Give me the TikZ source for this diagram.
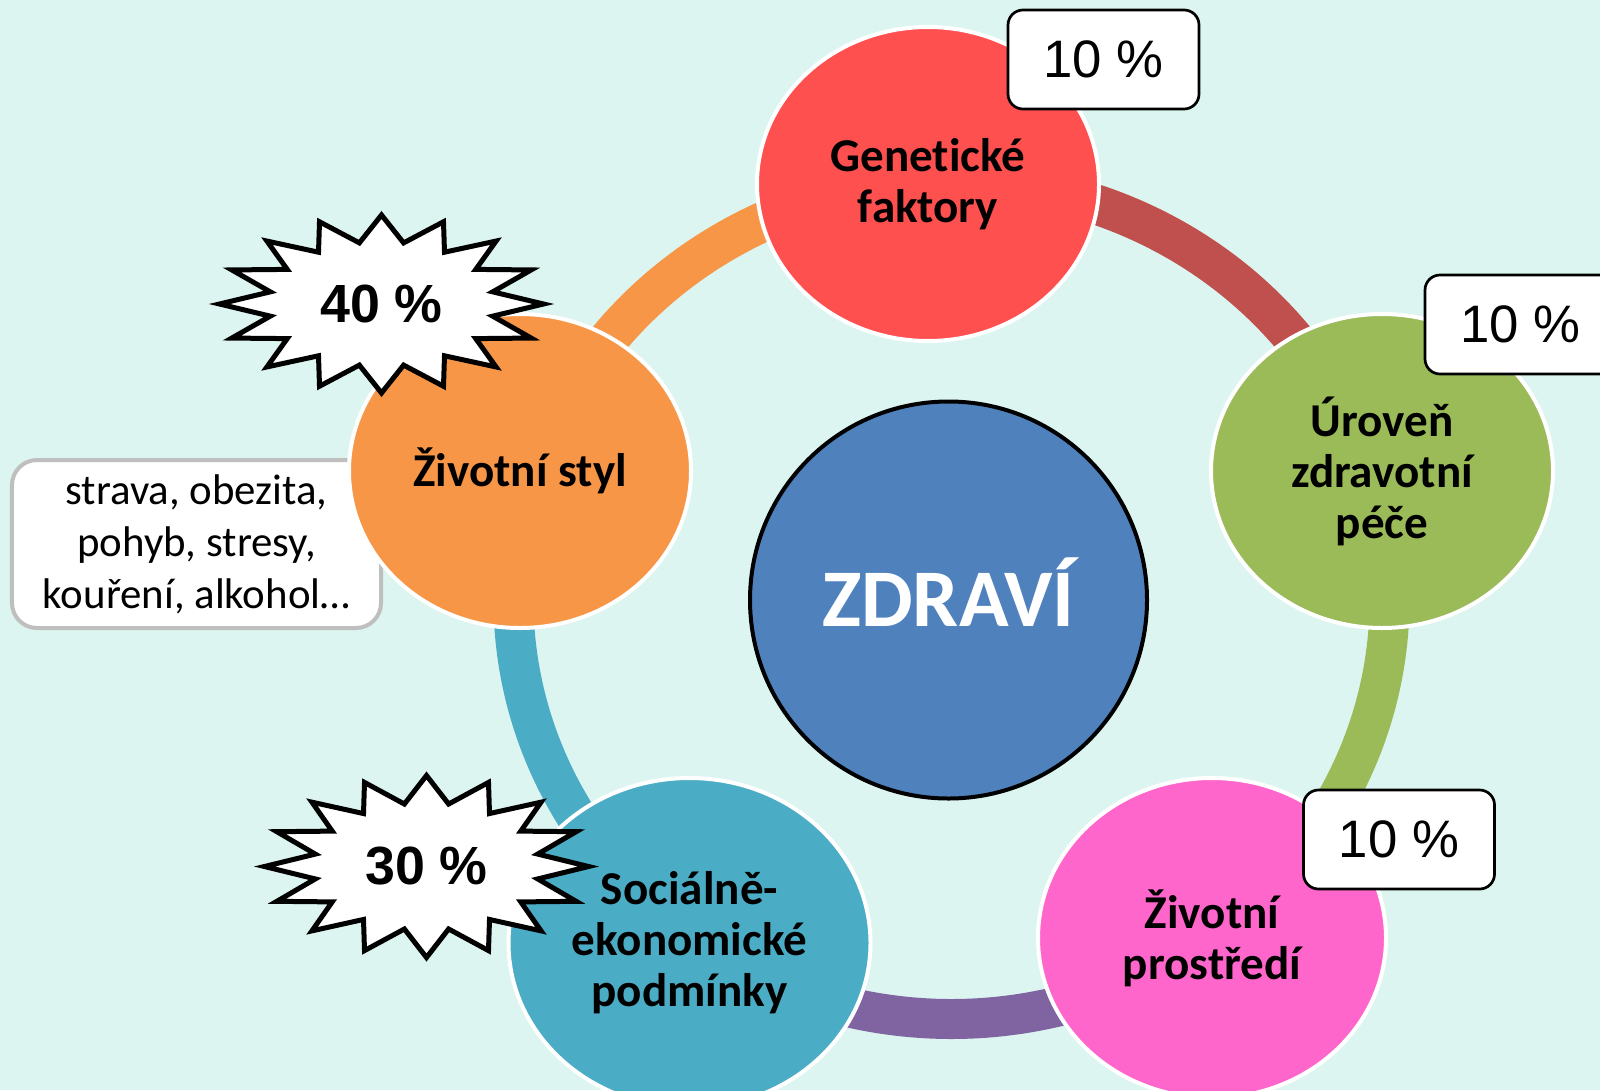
\documentclass[tikz,border=0pt]{standalone}
\usepackage{fontspec}
\setmainfont{Carlito}[Ligatures=NoCommon]
\newfontfamily\arialfont{Liberation Sans}
\usetikzlibrary{shapes.geometric}

\definecolor{bgmint}{RGB}{220,245,240}
\definecolor{genred}{RGB}{255,80,80}
\definecolor{arcred}{RGB}{192,80,77}
\definecolor{caregreen}{RGB}{155,187,89}
\definecolor{envpink}{RGB}{255,102,204}
\definecolor{arcpurple}{RGB}{128,100,162}
\definecolor{socteal}{RGB}{75,172,198}
\definecolor{styleorange}{RGB}{247,150,70}
\definecolor{healthblue}{RGB}{79,129,189}
\definecolor{notegray}{RGB}{191,191,191}

\begin{document}
\begin{tikzpicture}[
    factor/.style={ellipse, draw=white, line width=0.04cm, minimum width=3.42cm,
      minimum height=3.14cm, inner sep=0pt, align=center,
      font={\fontsize{13.4pt}{14.5pt}\selectfont\bfseries}},
    ringband/.style={line width=0.40cm},
    pctbox/.style={draw=black, fill=white, line width=0.027cm, rounded corners=0.15cm,
      minimum width=1.91cm, minimum height=0.99cm, inner sep=0pt,
      font={\arialfont\fontsize{15pt}{18pt}\selectfont}},
    burst/.style={draw=black, fill=white, line width=0.05cm, line join=miter},
    bursttext/.style={inner sep=0pt, font={\arialfont\bfseries\fontsize{15.3pt}{18pt}\selectfont}},
    notebox/.style={draw=notegray, fill=white, line width=0.04cm, rounded corners=0.25cm,
      minimum width=3.69cm, minimum height=1.68cm, inner sep=0pt, align=center,
      font={\fontsize{12.2pt}{14.8pt}\selectfont}}
  ]
  \clip (0.000000,0.000000) rectangle (16.000000,10.900000);
  \fill [bgmint] (0.000000,0.000000) rectangle (16.000000,10.900000);%

  % Note box behind the lifestyle circle
  \node [notebox] (note) at (1.965000,5.460000) {strava, obezita,\\pohyb, stresy,\\kouření, alkohol…};%

  % Drawing ring segments
  \draw [ringband, arcred] (9.515000,4.900000) ++(90:4.38 and 4.19) arc [start angle=90, end angle=18, x radius=4.38, y radius=4.19];%
  \draw [ringband, caregreen] (9.515000,4.900000) ++(18:4.38 and 4.19) arc [start angle=18, end angle=-54, x radius=4.38, y radius=4.19];%
  \draw [ringband, arcpurple] (9.515000,4.900000) ++(-54:4.38 and 4.19) arc [start angle=-54, end angle=-126, x radius=4.38, y radius=4.19];%
  \draw [ringband, socteal] (9.515000,4.900000) ++(-126:4.38 and 4.19) arc [start angle=-126, end angle=-198, x radius=4.38, y radius=4.19];%
  \draw [ringband, styleorange] (9.515000,4.900000) ++(162:4.38 and 4.19) arc [start angle=162, end angle=90, x radius=4.38, y radius=4.19];%

  % Factor circles
  \node [factor, fill=genred] (genetic) at (9.280000,9.060000) {Genetické\\faktory};%
  \node [factor, fill=caregreen] (care) at (13.820000,6.190000) {Úroveň\\zdravotní\\péče};%
  \node [factor, fill=envpink, minimum width=3.48cm, minimum height=3.20cm] (environment) at (12.120000,1.520000) {Životní\\prostředí};%
  \node [factor, fill=socteal, minimum width=3.62cm, minimum height=3.30cm] (social) at (6.895000,1.470000) {Sociálně-\\ekonomické\\podmínky};%
  \node [factor, fill=styleorange] (lifestyle) at (5.200000,6.190000) {Životní styl};%

  % Centre circle
  \node [circle, draw=black, fill=healthblue, line width=0.04cm, minimum size=3.97cm, inner sep=0pt,
    text=white, text height=0.52cm, text depth=0pt,
    font={\fontsize{23.3pt}{28pt}\selectfont\bfseries}] (health) at (9.485000,4.900000) {ZDRAVÍ};%

  % Marking shares by boxes
  \node [pctbox] (pctgenetic) at (11.035000,10.305000) {10 \%};%
  \node [pctbox] (pctcare) at (15.205000,7.655000) {10 \%};%
  \node [pctbox] (pctenvironment) at (13.990000,2.505000) {10 \%};%

  % Marking shares by bursts
  \draw [burst] plot [domain=0:31, samples=32, variable=\k]
    ({3.815+1.620*(0.85+0.15*cos(180*\k))*cos(90+11.25*\k)},
     {7.860+0.890*(0.85+0.15*cos(180*\k))*sin(90+11.25*\k)}) -- cycle;%
  \node [bursttext] (pctlifestyle) at (3.815000,7.860000) {40 \%};%
  \draw [burst] plot [domain=0:31, samples=32, variable=\k]
    ({4.265+1.620*(0.85+0.15*cos(180*\k))*cos(90+11.25*\k)},
     {2.235+0.910*(0.85+0.15*cos(180*\k))*sin(90+11.25*\k)}) -- cycle;%
  \node [bursttext] (pctsocial) at (4.265000,2.235000) {30 \%};%
\end{tikzpicture}
\end{document}
